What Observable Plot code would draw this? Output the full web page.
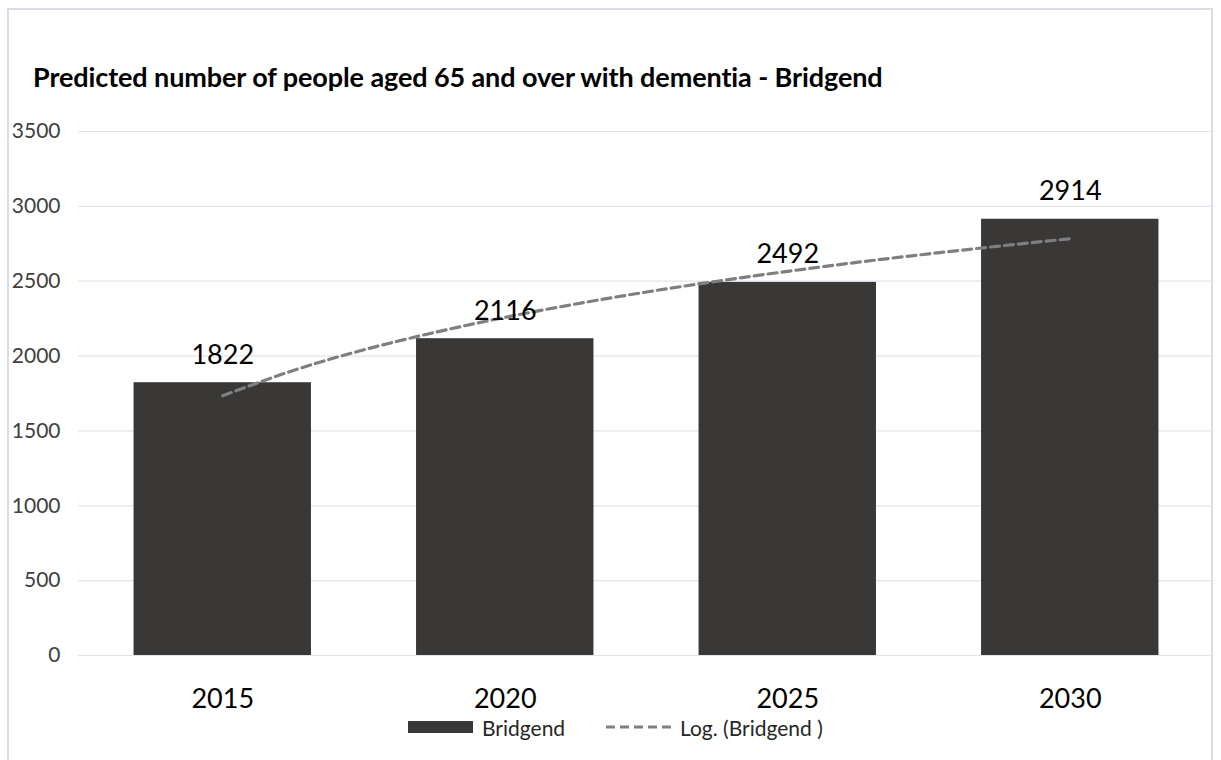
<!DOCTYPE html>
<html>
<head>
<meta charset="utf-8">
<script src="https://cdn.jsdelivr.net/npm/d3@7"></script>
<script src="https://cdn.jsdelivr.net/npm/@observablehq/plot@0.6"></script>
<style>
  html, body { margin: 0; padding: 0; background: #fff; }
  #wrap { position: relative; width: 1221px; height: 760px; overflow: hidden; font-family: Lato, "Open Sans", sans-serif; }
  #frame { position: absolute; left: 7px; top: 8px; width: 1206px; height: 760px; border: 2px solid #dadde4; box-sizing: border-box; }
  #title { position: absolute; left: 33px; top: 60px; font-size: 27px; font-weight: bold; color: #000; white-space: nowrap; letter-spacing: -0.1px; }
  #chart { position: absolute; left: 0; top: 0; }
  #legend { position: absolute; left: 0; top: 714px; width: 1221px; height: 26px; font-size: 21px; color: #262626; }
  .lg { position: absolute; top: 0; display: flex; align-items: center; height: 26px; }
</style>
</head>
<body>
<div id="wrap">
  <div id="frame"></div>
  <div id="chart"></div>
  <div id="title">Predicted number of people aged 65 and over with dementia - Bridgend</div>
  <div id="legend">
    <div class="lg" style="left:408px"><svg width="66" height="14"><rect x="0" y="1" width="65" height="12" fill="#3a3836"></rect></svg><span style="margin-left:8px">Bridgend</span></div>
    <div class="lg" style="left:606px"><svg width="70" height="14"><line x1="0" y1="7" x2="68" y2="7" stroke="#7f7f7f" stroke-width="3" stroke-dasharray="9,5"></line></svg><span style="margin-left:4px">Log. (Bridgend )</span></div>
  </div>
</div>
<script>
// Data
const years = [2015, 2020, 2025, 2030];
const values = [1822, 2116, 2492, 2914];
const yTicks = [0, 500, 1000, 1500, 2000, 2500, 3000, 3500];
// Logarithmic trendline
const trendYears = [2015, 2016.25, 2017.5, 2018.75, 2020, 2021.25, 2022.5, 2023.75, 2025, 2026.25, 2027.5, 2028.75, 2030];
const trendValues = [1735, 1904, 2042, 2158, 2259, 2348, 2428, 2500, 2566, 2627, 2683, 2735, 2784];

const bars = years.map((y, i) => ({year: y, value: values[i]}));
const trend = trendYears.map((y, i) => ({year: y, value: trendValues[i]}));
const halfBar = 1.57;

const chart = Plot.plot({
  width: 1221,
  height: 760,
  marginLeft: 81,
  marginRight: 10,
  marginTop: 131,
  marginBottom: 105,
  style: {fontFamily: "Lato, 'Open Sans', sans-serif", fontSize: "20px", color: "#404040", background: "transparent"},
  x: {type: "linear", domain: [2012.5, 2032.5], axis: null},
  y: {domain: [0, 3500], ticks: yTicks, axis: null},
  marks: [
    Plot.ruleY(yTicks, {stroke: "#e1e4ea", strokeWidth: 1.2, x1: 2012.45, x2: 2032.55}),
    Plot.axisY({ticks: yTicks, tickFormat: d => String(d), tickSize: 0, tickPadding: 21, label: null, fontSize: 21, fill: "#404040"}),
    Plot.rectY(bars, {x1: d => d.year - halfBar, x2: d => d.year + halfBar, y: "value", fill: "#3a3836"}),
    Plot.line(trend, {x: "year", y: "value", stroke: "#7f7f7f", strokeWidth: 3.2, strokeDasharray: "9,5", curve: "natural"}),
    Plot.text(bars, {x: "year", y: "value", text: d => String(d.value), dy: -19, lineAnchor: "bottom", fontSize: 27, fill: "#000"}),
    Plot.text(bars, {x: "year", y: 0, text: d => String(d.year), dy: 52, lineAnchor: "bottom", fontSize: 27, fill: "#000"})
  ]
});
document.getElementById("chart").appendChild(chart);
</script>
</body>
</html>
